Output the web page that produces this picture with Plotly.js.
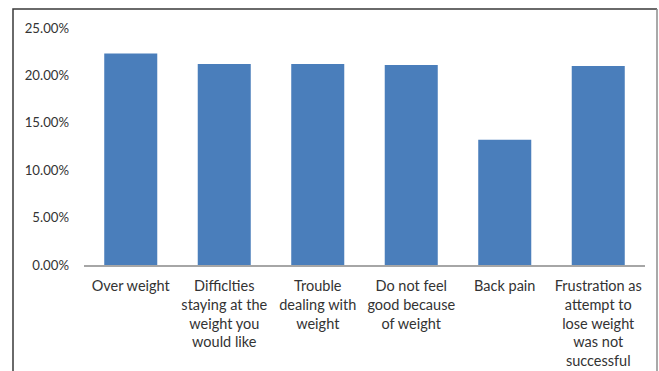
<!DOCTYPE html>
<html>
<head>
<meta charset="utf-8">
<script src="https://cdn.plot.ly/plotly-3.0.1.min.js"></script>
<style>
  html, body { margin: 0; padding: 0; background: #ffffff; }
  #chart { width: 659px; height: 371px; }
</style>
</head>
<body>
<div id="chart"></div>
<script>
// Reasons reported, with the share of respondents for each
const categories = [
  "Over weight",
  "Difficlties<br>staying at the<br>weight you<br>would like",
  "Trouble<br>dealing with<br>weight",
  "Do not feel<br>good because<br>of weight",
  "Back pain",
  "Frustration as<br>attempt to<br>lose weight<br>was not<br>successful"
];
const shares = [0.223, 0.212, 0.212, 0.211, 0.132, 0.210];
const yTicks = [0, 0.05, 0.10, 0.15, 0.20, 0.25];

// Plot area in pixels
const W = 659, H = 371;
const M = { l: 84, r: 14, t: 28, b: 106 };
const pw = W - M.l - M.r, ph = H - M.t - M.b;
const px = x => (x - M.l) / pw;
const py = y => (H - M.b - y) / ph;

const textColor = "#333333";
const family = "Lato, 'Open Sans', sans-serif";
const xFont = { family: family, size: 14.5, color: textColor };
const yFont = { family: family, size: 13.2, color: textColor };

const trace = {
  type: "bar",
  x: categories,
  y: shares,
  marker: { color: "#4a7ebb", line: { width: 0 } },
  hoverinfo: "x+y"
};

const layout = {
  width: W, height: H,
  margin: M,
  paper_bgcolor: "#ffffff",
  plot_bgcolor: "#ffffff",
  showlegend: false,
  bargap: 0.433,
  font: xFont,
  xaxis: {
    type: "category",
    showgrid: false,
    zeroline: false,
    showline: true,
    linecolor: "#a6a6a6",
    linewidth: 1.5,
    ticks: "",
    tickfont: xFont,
    tickangle: 0,
    ticklabelstandoff: 7,
    automargin: false
  },
  yaxis: {
    range: [0, 0.25],
    tickvals: yTicks,
    tickformat: ".2%",
    showgrid: false,
    zeroline: false,
    showline: false,
    ticks: "",
    tickfont: yFont,
    ticklabelstandoff: 14,
    automargin: false
  },
  shapes: [
    // chart frame: left and top edges
    {
      type: "path", xref: "paper", yref: "paper",
      path: `M ${px(13)} ${py(380)} L ${px(13)} ${py(9)} L ${px(657)} ${py(9)}`,
      line: { color: "#3a3a3a", width: 1.5 }
    },
    // right edge
    {
      type: "line", xref: "paper", yref: "paper",
      x0: px(657), x1: px(657), y0: py(9), y1: py(380),
      line: { color: "#8c8c8c", width: 1.5 }
    }
  ]
};

Plotly.newPlot("chart", [trace], layout, { displayModeBar: false, staticPlot: true });
</script>
</body>
</html>
